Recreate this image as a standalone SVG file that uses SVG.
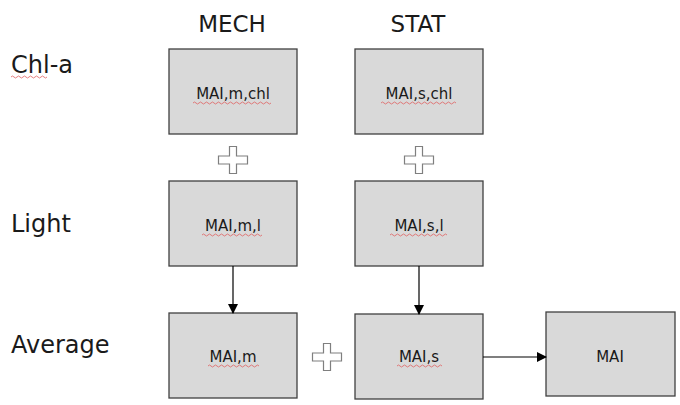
<svg xmlns="http://www.w3.org/2000/svg" width="680" height="405" viewBox="0 0 680 405">
<style>
.box{fill:#d9d9d9;stroke:#404040;stroke-width:1.3}
.bt{font-family:"DejaVu Sans",Verdana,sans-serif;font-size:15px;fill:#1a1a1a;text-anchor:middle}
.hd{font-family:"DejaVu Sans",Verdana,sans-serif;font-size:23px;fill:#1a1a1a;text-anchor:middle}
.rl{font-family:"DejaVu Sans",Verdana,sans-serif;font-size:24px;fill:#1a1a1a}
.plus{fill:#ffffff;stroke:#7f7f7f;stroke-width:1.2}
.sq{fill:none;stroke:#e06060;stroke-width:0.8}
.ln{stroke:#000;stroke-width:1.2;fill:none}
</style>
<defs>
<marker id="ah" markerWidth="10" markerHeight="10" refX="9" refY="5" orient="auto" markerUnits="userSpaceOnUse">
<path d="M0,0 L10,5 L0,10 Z" fill="#000"/>
</marker>
<path id="pl" d="M-3.5,-13.5 h7 v9.5 h11 v8 h-11 v9.5 h-7 v-9.5 h-11 v-8 h11 Z"/>
</defs>

<g id="headers">
<text class="hd" x="232" y="32">MECH</text>
<text class="hd" x="418" y="32">STAT</text>
</g>
<g id="rows">
<text class="rl" x="11" y="73">Chl-a</text>
<path class="sq" d="M11,77 q1.5,-2 3,0 t3,0 t3,0 t3,0 t3,0 t3,0 t3,0 t3,0 t3,0 t3,0 t3,0 t3,0"/>
<text class="rl" x="11" y="232">Light</text>
<text class="rl" x="11" y="353">Average</text>
</g>

<g id="n_m_chl">
<rect class="box" x="169" y="49" width="128" height="85"/>
<text class="bt" x="233" y="99">MAI,m,chl</text>
<path class="sq" d="M193,103 q1.5,-2 3,0 t3,0 t3,0 t3,0 t3,0 t3,0 t3,0 t3,0 t3,0 t3,0 t3,0 t3,0 t3,0 t3,0 t3,0 t3,0 t3,0 t3,0 t3,0 t3,0 t3,0 t3,0 t3,0 t3,0 t3,0 t3,0"/>
</g>
<g id="n_s_chl">
<rect class="box" x="355" y="49" width="128" height="85"/>
<text class="bt" x="419" y="99">MAI,s,chl</text>
<path class="sq" d="M381,103 q1.5,-2 3,0 t3,0 t3,0 t3,0 t3,0 t3,0 t3,0 t3,0 t3,0 t3,0 t3,0 t3,0 t3,0 t3,0 t3,0 t3,0 t3,0 t3,0 t3,0 t3,0 t3,0 t3,0 t3,0 t3,0 t3,0"/>
</g>
<g id="plus1"><use href="#pl" class="plus" transform="translate(233,160)"/></g>
<g id="plus2"><use href="#pl" class="plus" transform="translate(419,160)"/></g>

<g id="n_m_l">
<rect class="box" x="169" y="181" width="128" height="85"/>
<text class="bt" x="233" y="231">MAI,m,l</text>
<path class="sq" d="M202,235 q1.5,-2 3,0 t3,0 t3,0 t3,0 t3,0 t3,0 t3,0 t3,0 t3,0 t3,0 t3,0 t3,0 t3,0 t3,0 t3,0 t3,0 t3,0 t3,0 t3,0 t3,0"/>
</g>
<g id="n_s_l">
<rect class="box" x="355" y="181" width="128" height="85"/>
<text class="bt" x="419" y="231">MAI,s,l</text>
<path class="sq" d="M390,235 q1.5,-2 3,0 t3,0 t3,0 t3,0 t3,0 t3,0 t3,0 t3,0 t3,0 t3,0 t3,0 t3,0 t3,0 t3,0 t3,0 t3,0 t3,0 t3,0 t3,0"/>
</g>

<g id="n_m">
<rect class="box" x="169" y="313" width="128" height="85"/>
<text class="bt" x="233" y="362">MAI,m</text>
<path class="sq" d="M208,366 q1.5,-2 3,0 t3,0 t3,0 t3,0 t3,0 t3,0 t3,0 t3,0 t3,0 t3,0 t3,0 t3,0 t3,0 t3,0 t3,0 t3,0 t3,0"/>
</g>
<g id="plus3"><use href="#pl" class="plus" transform="translate(327,357)"/></g>
<g id="n_s">
<rect class="box" x="355" y="314" width="128" height="85"/>
<text class="bt" x="419" y="362">MAI,s</text>
<path class="sq" d="M397,366 q1.5,-2 3,0 t3,0 t3,0 t3,0 t3,0 t3,0 t3,0 t3,0 t3,0 t3,0 t3,0 t3,0 t3,0 t3,0 t3,0"/>
</g>
<g id="n_mai">
<rect class="box" x="546" y="312" width="129" height="84"/>
<text class="bt" x="610" y="362">MAI</text>
</g>

<g id="connectors">
<line class="ln" x1="233" y1="266" x2="233" y2="313" marker-end="url(#ah)"/>
<line class="ln" x1="419" y1="266" x2="419" y2="314" marker-end="url(#ah)"/>
<line class="ln" x1="483" y1="357" x2="546" y2="357" marker-end="url(#ah)"/>
</g>
</svg>
